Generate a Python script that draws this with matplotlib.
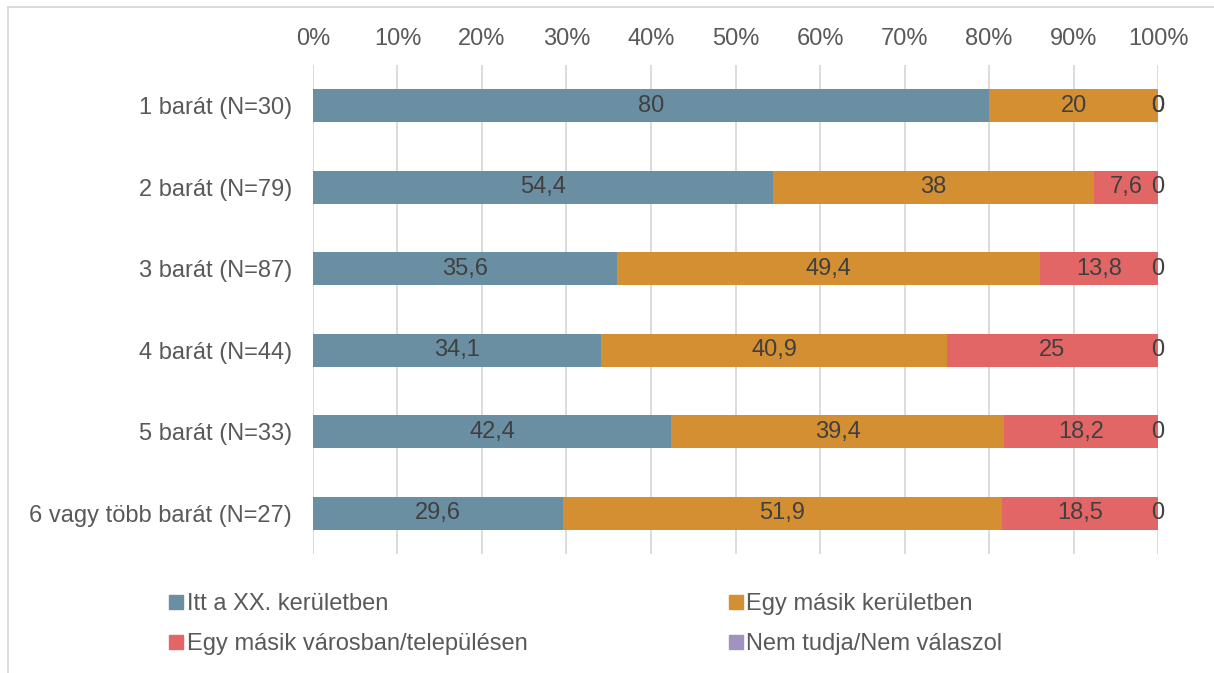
import matplotlib.pyplot as plt
import matplotlib.lines as mlines
import numpy as np

plt.rcParams['font.family'] = ['Liberation Sans', 'DejaVu Sans']

categories = ['1 barát (N=30)', '2 barát (N=79)', '3 barát (N=87)',
              '4 barát (N=44)', '5 barát (N=33)', '6 vagy több barát (N=27)']
series_names = ['Itt a XX. kerületben', 'Egy másik kerületben',
                'Egy másik városban/településen', 'Nem tudja/Nem válaszol']
itt = [80, 54.4, 35.6, 34.1, 42.4, 29.6]
masik_ker = [20, 38, 49.4, 40.9, 39.4, 51.9]
masik_varos = [0, 7.6, 13.8, 25, 18.2, 18.5]
nem_tudja = [0, 0, 0, 0, 0, 0]
x_ticks = [0, 10, 20, 30, 40, 50, 60, 70, 80, 90, 100]

colors = ['#6a8fa3', '#d38f32', '#e36666', '#a292bf']
series = [itt, masik_ker, masik_varos, nem_tudja]
FS = 17

fig = plt.figure(figsize=(12.14, 6.73), dpi=100)
ax = fig.add_axes([0.2578, 0.1768, 0.6961, 0.7266])

# 100% stacked: scale each row to its total
totals = np.sum(np.array(series, dtype=float), axis=0)
y = np.arange(len(categories))
left = np.zeros(len(categories))
handles = []
for name, vals, col in zip(series_names, series, colors):
    vals = np.array(vals, dtype=float)
    w = vals / totals * 100
    ax.barh(y, w, left=left, height=0.4, color=col, zorder=2)
    for yi, l, wi, v in zip(y, left, w, vals):
        lab = ('%g' % v).replace('.', ',')
        ax.text(l + wi / 2, yi, lab, ha='center', va='center',
                fontsize=FS, color='#404040', zorder=3)
    left += w
    handles.append(mlines.Line2D([], [], marker='s', linestyle='none',
                                 markersize=10, color=col, label=name))

ax.set_xlim(0, 100)
ax.set_ylim(len(categories) - 0.5, -0.5)
ax.set_xticks(x_ticks)
ax.set_xticklabels(['%d%%' % t for t in x_ticks])
ax.xaxis.tick_top()
ax.set_yticks(y)
ax.set_yticklabels(categories)
ax.tick_params(axis='x', length=0, pad=11, labelsize=FS, labelcolor='#595959')
ax.tick_params(axis='y', length=0, pad=15, labelsize=FS, labelcolor='#595959')
for s in ax.spines.values():
    s.set_visible(False)
ax.grid(axis='x', color='#d9d9d9', linewidth=1.3, zorder=0)
ax.set_axisbelow(True)

# legend fills column-wise, so reorder to get row-wise order
order = [0, 2, 1, 3]
fig.legend(handles=[handles[i] for i in order], ncol=2, loc='upper left',
           bbox_to_anchor=(0.1405, 0.1186), frameon=False, fontsize=FS,
           labelcolor='#595959', handlelength=0.5, handletextpad=0.2,
           columnspacing=8.55, labelspacing=0.76, borderaxespad=0,
           borderpad=0)

# outer chart border (cropped at right/bottom)
fig.add_artist(mlines.Line2D([0.0066, 0.0066], [0, 0.9896], color='#d9d9d9',
                             linewidth=1.3, transform=fig.transFigure))
fig.add_artist(mlines.Line2D([0.0066, 1], [0.9896, 0.9896], color='#d9d9d9',
                             linewidth=1.3, transform=fig.transFigure))

fig.savefig('out.png', dpi=100)
